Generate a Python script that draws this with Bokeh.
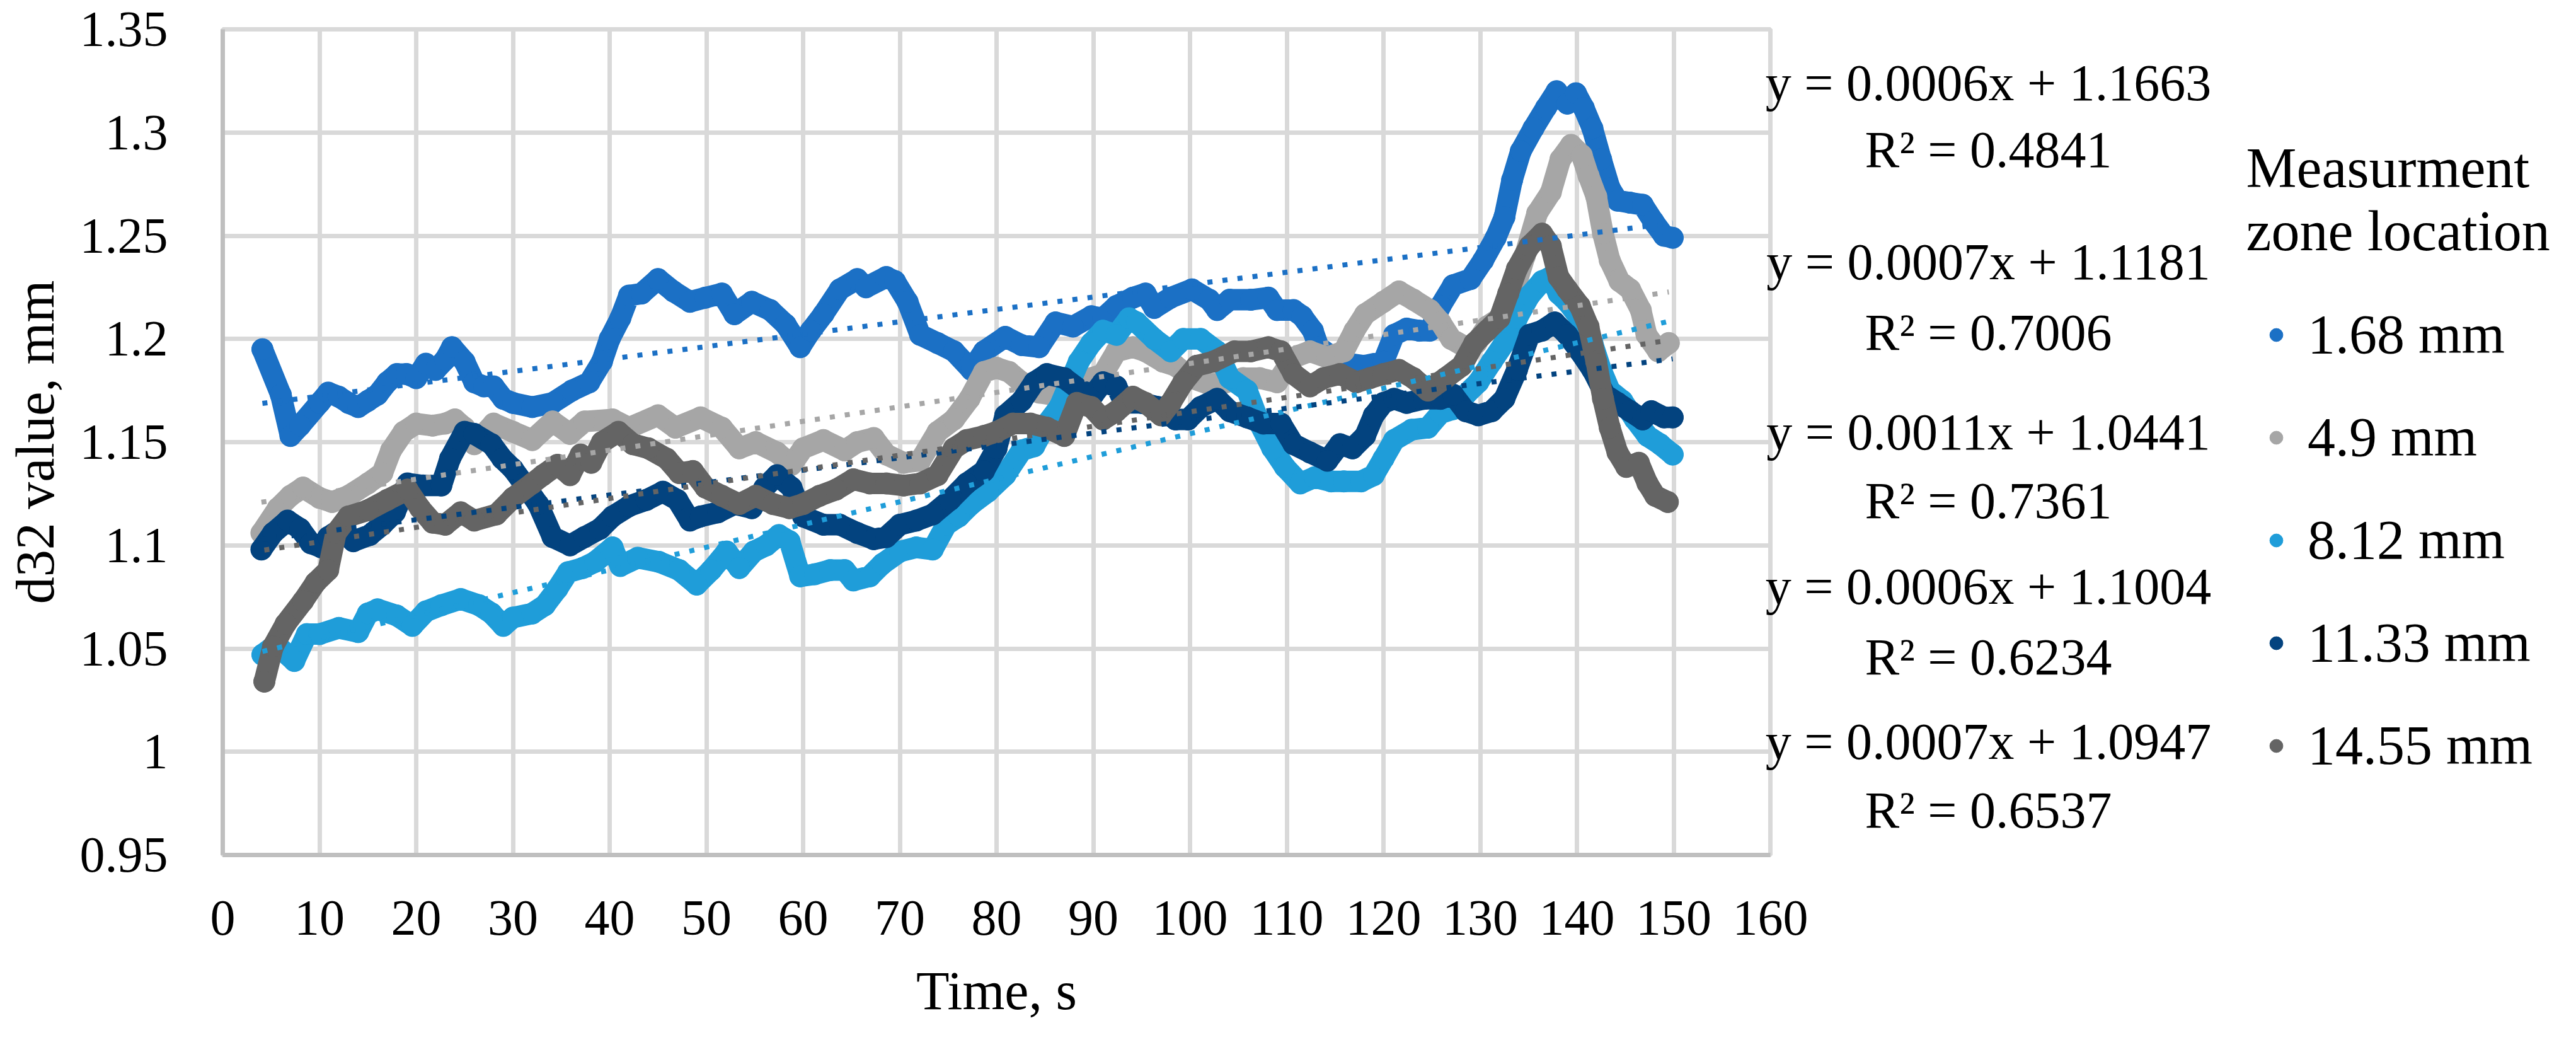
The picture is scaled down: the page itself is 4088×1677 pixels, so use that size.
from bokeh.plotting import figure
from bokeh.layouts import row
from bokeh.models import FixedTicker, Label, Legend, LegendItem
from bokeh.embed import file_html
from bokeh.resources import INLINE

# ---------------- data ----------------
series_names = ["1.68 mm", "4.9 mm", "8.12 mm", "11.33 mm", "14.55 mm"]

s_1_68 = [(4.1,1.195),(6,1.173),(7,1.153),(8,1.158),(10,1.169),(10.9,1.174),(12,1.172),(13,1.169),(14,1.167),(15,1.170),(16,1.173),(17,1.179),(18,1.183),(19,1.183),(20,1.181),(21,1.188),(22,1.185),(23,1.190),(23.7,1.196),(25,1.189),(26,1.179),(27,1.177),(28,1.177),(29,1.171),(30,1.169),(32,1.167),(34.1,1.169),(36.1,1.175),(37.9,1.179),(39.2,1.189),(40,1.200),(41.1,1.210),(42,1.221),(43.3,1.222),(45,1.229),(46.6,1.223),(48.3,1.218),(49.9,1.220),(51.6,1.222),(52.9,1.212),(54.7,1.218),(56.6,1.214),(58.2,1.207),(59.7,1.196),(60.8,1.204),(62.1,1.212),(63.8,1.224),(65.6,1.229),(66.5,1.225),(68.6,1.230),(69.5,1.228),(70.8,1.218),(72.1,1.202),(73.9,1.198),(75.6,1.194),(77.4,1.185),(78.7,1.194),(80.9,1.201),(82.6,1.197),(84.4,1.196),(86.1,1.208),(87.9,1.206),(89.8,1.211),(91,1.210),(92.4,1.216),(94.1,1.220),(95.4,1.222),(96.3,1.215),(98,1.220),(100.2,1.224),(102,1.219),(102.8,1.214),(104.1,1.219),(106.3,1.219),(108.1,1.220),(109,1.214),(110.7,1.214),(111.6,1.211),(112.7,1.204),(113.3,1.196),(114.8,1.191),(116.5,1.188),(118,1.187),(120,1.189),(121.1,1.202),(122.4,1.205),(123.7,1.204),(124.8,1.204),(125.9,1.216),(127.2,1.226),(129,1.229),(130.3,1.238),(131.6,1.249),(132.5,1.259),(133.3,1.277),(134.2,1.291),(135.5,1.302),(136.8,1.312),(137.9,1.320),(139,1.314),(139.9,1.319),(140.7,1.312),(141.6,1.302),(142.5,1.287),(143.4,1.273),(144.2,1.267),(145.5,1.266),(146.8,1.265),(147.9,1.257),(149,1.250),(149.9,1.249)]

s_4_9 = [(4,1.106),(5.7,1.118),(7,1.124),(8.3,1.128),(10,1.123),(11.3,1.121),(13,1.124),(15,1.130),(16.5,1.135),(17.4,1.146),(18.7,1.155),(20,1.159),(21.7,1.158),(23,1.159),(24,1.161),(25,1.157),(26,1.149),(28,1.159),(30,1.155),(32,1.151),(34.1,1.160),(35.9,1.154),(37.4,1.160),(40.3,1.161),(42,1.157),(45,1.163),(46.8,1.157),(49.4,1.162),(51.6,1.157),(53.4,1.147),(55.1,1.150),(57.3,1.145),(58.8,1.139),(60,1.147),(62.1,1.151),(64.3,1.146),(65.6,1.150),(67.3,1.152),(68.6,1.144),(70.4,1.140),(72.1,1.141),(73.9,1.155),(75.6,1.161),(77.2,1.171),(78.7,1.184),(80,1.186),(81.3,1.184),(82.6,1.179),(84.4,1.174),(85.7,1.173),(86.8,1.174),(88.3,1.177),(89.8,1.181),(91,1.183),(92.4,1.194),(94.1,1.196),(95.4,1.194),(97.2,1.189),(98.5,1.187),(100.2,1.181),(102,1.178),(103.7,1.179),(105.5,1.181),(107.2,1.181),(109,1.179),(110.7,1.191),(112.4,1.194),(114.2,1.191),(115.9,1.194),(117,1.204),(118.1,1.212),(120,1.218),(121.6,1.223),(123.1,1.219),(124.8,1.214),(125.9,1.208),(127,1.200),(128.5,1.196),(129.6,1.198),(130.7,1.206),(132,1.210),(133.3,1.220),(134.6,1.240),(135.9,1.261),(137.3,1.271),(138.3,1.287),(139.4,1.294),(140.5,1.289),(141.2,1.279),(142,1.269),(142.7,1.251),(143.4,1.238),(144.4,1.228),(145.5,1.224),(146.6,1.214),(147.2,1.202),(148.4,1.194),(149.5,1.198)]

s_8_12 = [(4.1,1.047),(5.5,1.052),(7.4,1.044),(8.7,1.057),(10,1.057),(12,1.060),(14,1.058),(15,1.067),(16,1.069),(18,1.066),(19.6,1.061),(21,1.068),(22.6,1.071),(24.6,1.074),(26.5,1.071),(27.8,1.067),(29,1.061),(30,1.065),(32,1.067),(33.3,1.071),(34.6,1.079),(35.7,1.087),(37.2,1.089),(38.5,1.092),(40.3,1.099),(41.1,1.090),(42.9,1.094),(45.1,1.092),(47.2,1.088),(49,1.081),(50.5,1.088),(52.1,1.097),(53.4,1.089),(54.9,1.097),(56.2,1.100),(57.5,1.105),(58.6,1.102),(59.7,1.085),(61.2,1.086),(62.8,1.088),(64.3,1.088),(65.2,1.083),(66.9,1.085),(68.2,1.091),(70,1.097),(71.7,1.099),(73.4,1.098),(74.8,1.110),(76.1,1.114),(77.4,1.120),(79.1,1.126),(80.9,1.134),(82.6,1.146),(83.9,1.148),(85.2,1.159),(86.5,1.167),(87.4,1.177),(88.5,1.189),(89.8,1.198),(91,1.204),(92.4,1.202),(93.7,1.210),(94.5,1.208),(96.3,1.200),(98,1.194),(99.3,1.200),(101.1,1.200),(102.8,1.194),(104.1,1.181),(105.9,1.175),(107.2,1.159),(108.5,1.147),(109.8,1.138),(111.4,1.130),(112.9,1.133),(114.6,1.131),(115.9,1.131),(117.7,1.131),(119,1.134),(120,1.142),(121.1,1.151),(122.9,1.156),(124.6,1.157),(125.9,1.164),(127.2,1.166),(128.5,1.173),(129.8,1.179),(131.2,1.189),(132.5,1.198),(133.8,1.210),(135.1,1.221),(136.4,1.228),(137.3,1.230),(138.1,1.222),(139,1.218),(140.3,1.210),(141.6,1.198),(142.5,1.185),(143.4,1.175),(144.7,1.170),(146,1.161),(147.3,1.153),(148.6,1.149),(149.9,1.144)]

s_11_33 = [(4,1.098),(5.2,1.106),(6.7,1.112),(8,1.108),(9.1,1.101),(10.2,1.099),(10.9,1.104),(12.2,1.108),(13.5,1.102),(15.2,1.105),(16.5,1.110),(17.8,1.116),(19.1,1.130),(20.7,1.129),(22.6,1.129),(23.5,1.142),(25,1.155),(26,1.154),(27.8,1.149),(28.9,1.142),(30,1.137),(31.1,1.130),(32.6,1.120),(34.1,1.104),(35.9,1.100),(37.4,1.104),(39,1.108),(40.3,1.114),(42,1.119),(43.8,1.122),(45.5,1.126),(47,1.122),(48.3,1.112),(49.4,1.114),(51.2,1.116),(52.9,1.120),(54.7,1.118),(56,1.128),(57.3,1.134),(58.8,1.128),(60,1.114),(62.1,1.110),(63.8,1.110),(65.6,1.106),(67.3,1.103),(68.6,1.104),(70,1.110),(71.7,1.112),(73.4,1.115),(75.2,1.122),(76.9,1.130),(78.7,1.136),(80,1.147),(80.9,1.163),(82.6,1.170),(83.9,1.179),(85.2,1.183),(87,1.181),(88.7,1.175),(90,1.173),(91,1.179),(92.4,1.177),(93.2,1.169),(95,1.169),(96.7,1.167),(98.5,1.161),(99.8,1.161),(101.1,1.167),(102.8,1.171),(104.1,1.165),(105.9,1.162),(107.6,1.159),(109.4,1.159),(110.7,1.149),(112.4,1.145),(114.2,1.141),(115.5,1.149),(116.8,1.147),(118.1,1.153),(119,1.163),(120,1.169),(121.1,1.171),(122.4,1.169),(124.2,1.171),(125.9,1.171),(127.2,1.173),(128.5,1.165),(129.8,1.163),(131.2,1.165),(132.5,1.171),(133.8,1.185),(135.1,1.202),(136.4,1.204),(137.7,1.208),(139,1.202),(140.3,1.194),(141.6,1.185),(142.9,1.173),(144.2,1.169),(145.5,1.165),(146.8,1.161),(147.7,1.165),(149,1.162),(149.9,1.162)]

s_14_55 = [(4.3,1.034),(5.2,1.051),(6.5,1.062),(8.3,1.073),(9.6,1.082),(10.9,1.088),(11.7,1.106),(13,1.114),(15,1.117),(17,1.122),(19.1,1.127),(20.4,1.118),(21.7,1.111),(23,1.110),(24.6,1.116),(26,1.112),(28.3,1.115),(30,1.123),(32,1.130),(33.1,1.134),(34.6,1.139),(35.9,1.134),(37,1.144),(38.1,1.140),(39.2,1.150),(40.9,1.155),(42.4,1.149),(44,1.147),(45.9,1.142),(47.2,1.135),(48.6,1.136),(49.9,1.128),(51.6,1.124),(53.4,1.120),(55.1,1.124),(56.9,1.120),(58.6,1.118),(60,1.120),(61.7,1.124),(63.4,1.127),(65.2,1.132),(66.9,1.130),(68.6,1.130),(70.4,1.129),(72.1,1.130),(73.9,1.134),(75.6,1.147),(76.9,1.151),(78.7,1.153),(80,1.155),(81.7,1.159),(83.5,1.159),(85.2,1.157),(87,1.153),(88.3,1.169),(89.8,1.167),(91,1.161),(92.4,1.165),(94.1,1.172),(95.4,1.169),(97,1.163),(98,1.169),(99.3,1.179),(100.7,1.187),(102.4,1.189),(104.6,1.194),(106.3,1.194),(108.1,1.196),(109.4,1.194),(110.7,1.183),(112.4,1.177),(113.8,1.181),(115.5,1.183),(117.2,1.179),(118.6,1.181),(120,1.183),(121.6,1.185),(123.1,1.181),(124.6,1.175),(126.4,1.181),(128.1,1.187),(129.4,1.198),(130.7,1.204),(132,1.210),(132.9,1.222),(133.8,1.234),(135.1,1.245),(136.4,1.251),(137.3,1.245),(138.1,1.230),(139,1.224),(140.3,1.216),(141.2,1.206),(142,1.189),(142.7,1.171),(143.4,1.157),(144.2,1.145),(145.1,1.138),(146.4,1.140),(147.3,1.130),(148.1,1.124),(149.4,1.121)]

trend_slope = [0.0006, 0.0007, 0.0011, 0.0006, 0.0007]
trend_intercept = [1.1663, 1.1181, 1.0441, 1.1004, 1.0947]
trend_r2 = ["0.4841", "0.7006", "0.7361", "0.6234", "0.6537"]

x_ticks = [0, 10, 20, 30, 40, 50, 60, 70, 80, 90, 100, 110, 120, 130, 140, 150, 160]
y_ticks = [0.95, 1.0, 1.05, 1.1, 1.15, 1.2, 1.25, 1.3, 1.35]
y_tick_labels = ["0.95", "1", "1.05", "1.1", "1.15", "1.2", "1.25", "1.3", "1.35"]

legend_title = ["Measurment", "zone location"]
x_title = "Time, s"
y_title = "d32 value, mm"

# ---------------- style ----------------
colors = ["#1B70C5", "#A6A6A6", "#1F9DD9", "#03437F", "#646464"]
FONT = "Liberation Serif"
all_series = [s_1_68, s_4_9, s_8_12, s_11_33, s_14_55]

TOP = 46
FRAME_H = 1310
LEFT = 353
FRAME_W = 2456
RIGHT = 70            # room for the "160" tick label
PANEL_START = 2780    # where the equation/legend panel begins (overlaps the plot a little)
PANEL_W = 4068 - PANEL_START

p = figure(frame_width=FRAME_W, frame_height=FRAME_H, x_range=(0, 160), y_range=(0.95, 1.35),
           output_backend="svg", toolbar_location=None,
           min_border_left=LEFT, min_border_top=TOP, min_border_right=RIGHT, min_border_bottom=0)
p.background_fill_color = "white"
p.border_fill_color = "white"
p.outline_line_color = "#D9D9D9"
p.outline_line_width = 7

for ax in (p.xaxis[0], p.yaxis[0]):
    ax.axis_line_color = "#BFBFBF"
    ax.axis_line_width = 7
    ax.major_tick_line_color = None
    ax.minor_tick_line_color = None
    ax.major_tick_out = 0
    ax.major_tick_in = 0
    ax.major_label_text_font = FONT
    ax.major_label_text_font_size = "80px"
    ax.major_label_text_color = "black"
    ax.axis_label_text_font = FONT
    ax.axis_label_text_font_size = "86px"
    ax.axis_label_text_font_style = "normal"
    ax.axis_label_text_color = "black"

p.xaxis.ticker = FixedTicker(ticks=x_ticks)
p.yaxis.ticker = FixedTicker(ticks=y_ticks)
p.yaxis.major_label_overrides = {t: s for t, s in zip(y_ticks, y_tick_labels)}
p.xaxis.axis_label = x_title
p.yaxis.axis_label = y_title
p.xaxis.major_label_standoff = 73
p.xaxis.axis_label_standoff = 38
p.yaxis.major_label_standoff = 87
p.yaxis.axis_label_standoff = 20

for g in (p.xgrid[0], p.ygrid[0]):
    g.grid_line_color = "#D9D9D9"
    g.grid_line_width = 7
p.xgrid.ticker = FixedTicker(ticks=x_ticks)
p.ygrid.ticker = FixedTicker(ticks=y_ticks)

for pts, col in zip(all_series, colors):
    t = [a for a, b in pts]
    v = [b for a, b in pts]
    p.line(t, v, line_color=col, line_width=34, line_join="round", line_cap="round")
    p.scatter(t, v, marker="circle", size=34, fill_color=col, line_color=col)

# linear trendlines (Excel), drawn from the fitted equations over each series' time span
for pts, col, m, b in zip(all_series, colors, trend_slope, trend_intercept):
    t0 = min(a for a, _ in pts)
    t1 = max(a for a, _ in pts)
    p.line([t0, t1], [m * t0 + b, m * t1 + b], line_color=col, line_width=8,
           line_dash="8 16", line_cap="butt")

# ---------------- right-hand panel: trendline equations and legend ----------------
# transparent overlay figure sharing the y scale; pulled left so it overlaps the plot edge
p2 = figure(frame_width=PANEL_W, frame_height=FRAME_H, x_range=(0, PANEL_W), y_range=p.y_range,
            x_axis_type=None, y_axis_type=None, output_backend="svg", toolbar_location=None,
            min_border_left=0, min_border_right=0, min_border_top=TOP, min_border_bottom=0,
            margin=(0, 0, 0, -(LEFT + FRAME_W + RIGHT - PANEL_START)))
p2.outline_line_color = None
p2.background_fill_alpha = 0
p2.border_fill_alpha = 0

eq_x = 3155 - PANEL_START
eq_y = [(1.3240, 1.2917), (1.2373, 1.2031), (1.1549, 1.1216), (1.0801, 1.0459), (1.0050, 0.9717)]
for m, b, r2, (y1, y2) in zip(trend_slope, trend_intercept, trend_r2, eq_y):
    p2.add_layout(Label(x=eq_x, y=y1, text=f"y = {m:.4f}x + {b:.4f}", text_align="center",
                        text_baseline="middle", text_font=FONT, text_font_size="82px",
                        text_color="black"))
    p2.add_layout(Label(x=eq_x, y=y2, text=f"R\u00b2 = {r2}", text_align="center",
                        text_baseline="middle", text_font=FONT, text_font_size="82px",
                        text_color="black"))

for txt, yy in zip(legend_title, [1.2828, 1.2523]):
    p2.add_layout(Label(x=3564 - PANEL_START, y=yy, text=txt, text_align="left",
                        text_baseline="middle", text_font=FONT, text_font_size="90px",
                        text_color="black"))

# hidden copies of the series, used only to draw the legend markers
legend_renderers = []
for pts, col in zip(all_series, colors):
    r = p2.scatter([a for a, _ in pts], [b for _, b in pts], marker="circle",
                   fill_color=col, line_color=col, visible=False)
    legend_renderers.append(r)
items = [LegendItem(label=n, renderers=[r]) for n, r in zip(series_names, legend_renderers)]
legend = Legend(items=items, location=(3586 - PANEL_START, 123), orientation="vertical",
                glyph_width=52, glyph_height=100, label_height=100, label_standoff=24,
                spacing=62, padding=0, margin=0, border_line_color=None,
                background_fill_alpha=0, label_text_font=FONT, label_text_font_size="88px",
                label_text_color="black", click_policy="none")
p2.add_layout(legend, "center")

layout = row(p, p2, spacing=0)
open("out.html", "w").write(file_html(layout, INLINE))
